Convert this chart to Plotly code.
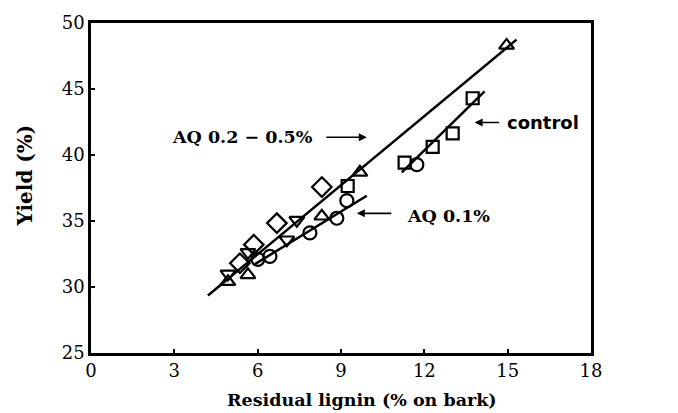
import plotly.graph_objects as go

# ---- data ----
tri_up_x = [4.93, 5.65, 8.31, 9.68, 14.96]
tri_up_y = [30.40, 30.92, 35.36, 38.68, 48.30]

tri_dn_x = [4.93, 5.65, 7.05, 7.41]
tri_dn_y = [30.99, 32.62, 33.58, 35.06]

diam_x = [5.36, 5.86, 6.69, 8.31]
diam_y = [31.80, 33.21, 34.84, 37.57]

circ_x = [6.01, 6.44, 7.88, 8.85, 9.21, 11.73]
circ_y = [32.10, 32.32, 34.10, 35.21, 36.54, 39.27]

sq_x = [9.24, 11.29, 12.30, 13.02, 13.74]
sq_y = [37.65, 39.42, 40.61, 41.64, 44.30]

# fitted lines (end points)
line_main_x = [4.21, 15.32]
line_main_y = [29.36, 48.74]
line_aq01_x = [5.90, 9.93]
line_aq01_y = [31.73, 36.91]
line_ctrl_x = [11.19, 14.17]
line_ctrl_y = [38.68, 44.82]

x_ticks = [0, 3, 6, 9, 12, 15, 18]
y_ticks = [25, 30, 35, 40, 45, 50]

SERIF = "DejaVu Serif"
fig = go.Figure()

for lx, ly in [(line_main_x, line_main_y), (line_aq01_x, line_aq01_y), (line_ctrl_x, line_ctrl_y)]:
    fig.add_trace(go.Scatter(x=lx, y=ly, mode="lines",
                             line=dict(color="black", width=2.5), showlegend=False))

def pts(x, y, sym, size):
    fig.add_trace(go.Scatter(x=x, y=y, mode="markers", showlegend=False,
                             marker=dict(symbol=sym, size=size, color="black",
                                         line=dict(color="black", width=2.2))))

pts(tri_up_x, tri_up_y, "triangle-up-open", 13)
pts(tri_dn_x, tri_dn_y, "triangle-down-open", 13)
pts(diam_x, diam_y, "diamond-open", 15)
pts(circ_x, circ_y, "circle-open", 13)
pts(sq_x, sq_y, "square-open", 12)

axis_common = dict(showgrid=False, zeroline=False, showline=True, linecolor="black",
                   linewidth=2.5, mirror=True, ticks="inside", ticklen=4, tickwidth=2,
                   tickcolor="black", tickfont=dict(family=SERIF, size=18, color="black"))

fig.update_xaxes(range=[0, 18], tickvals=x_ticks, ticktext=[str(v) for v in x_ticks], **axis_common)
fig.update_yaxes(range=[25, 50], tickvals=y_ticks, ticktext=[str(v) for v in y_ticks], **axis_common)

ann = []
# axis titles
ann.append(dict(text="<b>Residual lignin (% on bark)</b>", xref="paper", yref="paper", x=0.542, y=-0.142,
                showarrow=False, xanchor="center", yanchor="middle",
                font=dict(family=SERIF, size=17.5, color="black")))
ann.append(dict(text="<b>Yield (%)</b>", xref="paper", yref="paper", x=-0.132, y=0.538, textangle=-90,
                showarrow=False, xanchor="center", yanchor="middle",
                font=dict(family=SERIF, size=20, color="black")))
# labels
ann.append(dict(text="<b>AQ 0.2 − 0.5%</b>", x=8.06, y=41.35, xanchor="right", yanchor="middle",
                showarrow=False, font=dict(family=SERIF, size=17.5, color="black")))
ann.append(dict(text="<b>AQ 0.1%</b>", x=11.29, y=35.36, xanchor="left", yanchor="middle",
                showarrow=False, font=dict(family=SERIF, size=17.5, color="black")))
ann.append(dict(text="<b>control</b>", x=14.89, y=42.46, xanchor="left", yanchor="middle",
                showarrow=False, font=dict(family="DejaVu Sans", size=18, color="black")))
# arrows
for tx, ty, axp in [(9.93, 41.35, -42), (9.57, 35.58, 36), (13.81, 42.46, 26)]:
    ann.append(dict(text="", x=tx, y=ty, ax=axp, ay=0, showarrow=True, arrowhead=2,
                    arrowsize=1, arrowwidth=1.6, arrowcolor="black"))

fig.update_layout(width=678, height=413, margin=dict(l=91, r=87, t=15, b=60),
                  paper_bgcolor="white", plot_bgcolor="white", annotations=ann,
                  showlegend=False)

fig.write_html("out.html")
